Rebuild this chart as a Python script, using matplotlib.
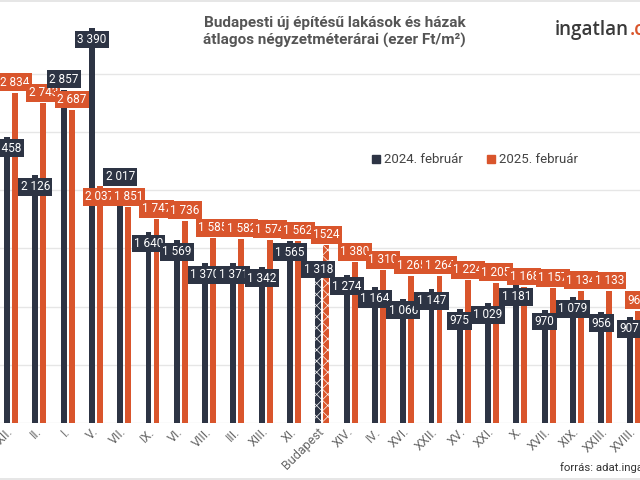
import numpy as np
import matplotlib
matplotlib.use('Agg')
import matplotlib.pyplot as plt
from matplotlib.patches import Patch
from matplotlib.lines import Line2D

plt.rcParams['font.family'] = ['Roboto', 'DejaVu Sans']
plt.rcParams['hatch.linewidth'] = 0.5

# data (ezer Ft/m2)
districts = ['XII.', 'II.', 'I.', 'V.', 'VII.', 'IX.', 'VI.', 'VIII.', 'III.', 'XIII.',
             'XI.', 'Budapest', 'XIV.', 'IV.', 'XVI.', 'XXII.', 'XV.', 'XXI.', 'X.',
             'XVII.', 'XIX.', 'XXIII.', 'XVIII.']
feb_2024 = [2458, 2126, 2857, 3390, 2017, 1640, 1569, 1370, 1371, 1342,
            1565, 1318, 1274, 1164, 1066, 1147, 975, 1029, 1181,
            970, 1079, 956, 907]
feb_2025 = [2834, 2743, 2687, 2037, 1851, 1747, 1736, 1585, 1582, 1574,
            1562, 1524, 1380, 1310, 1265, 1264, 1224, 1205, 1168,
            1157, 1134, 1133, 963]
series_names = ['2024. február', '2025. február']

NAVY = '#2d3444'
ORANGE = '#d9552c'
GRID = '#e6e6e6'

def fmt(v):
    return f'{v:,}'.replace(',', ' ')

lbl_2024 = [fmt(v) for v in feb_2024]
lbl_2025 = [fmt(v) for v in feb_2025]
lbl_2025[districts.index('Budapest')] = '1524'

fig = plt.figure(figsize=(6.4, 4.8), dpi=100)
ax = fig.add_axes([0, 57 / 480, 1, 407.75 / 480])

x = np.arange(len(districts))
w = 0.21
off = 0.142
bp = districts.index('Budapest')

b1 = ax.bar(x - off, feb_2024, w, color=NAVY, zorder=2, linewidth=0)
b2 = ax.bar(x + off, feb_2025, w, color=ORANGE, zorder=2, linewidth=0)
for b in (b1[bp], b2[bp]):
    b.set_hatch('xxx')
    b.set_edgecolor('white')

ax.set_xlim(-0.389, 22.226)
ax.set_ylim(0, 3500)
ax.set_yticks(np.arange(0, 3001, 500))
ax.yaxis.grid(True, color=GRID, linewidth=1)
ax.set_axisbelow(True)
ax.tick_params(axis='y', left=False, labelleft=False)
ax.tick_params(axis='x', length=0, pad=5)
for s in ax.spines.values():
    s.set_visible(False)

ax.set_xticks(x)
ax.set_xticklabels(districts, rotation=45, ha='right', va='center',
                   rotation_mode='anchor', fontsize=9, color='#666666')

# value labels
navy_up = {2, 4}
navy_mid = {bp}
orange_down = {3}
z = 5
for i in range(len(districts)):
    dy = -8.3
    if i in navy_up:
        dy = 8.0
    elif i in navy_mid:
        dy = 0
    ax.annotate(lbl_2024[i], (x[i] - off, feb_2024[i]), xytext=(0, dy),
                textcoords='offset points', ha='center', va='center',
                fontsize=8.5, color='white', zorder=z,
                bbox=dict(boxstyle='square,pad=0.2', fc=NAVY, ec='none'))
    z += 1
    dy = 7.6
    if i in orange_down:
        dy = -8.0
    ax.annotate(lbl_2025[i], (x[i] + off, feb_2025[i]), xytext=(0, dy),
                textcoords='offset points', ha='center', va='center',
                fontsize=8.5, color='white', zorder=z,
                bbox=dict(boxstyle='square,pad=0.2', fc=ORANGE, ec='none'))
    z += 1

# title
fig.text(0.523, 1 - 32 / 480, 'Budapesti új építésű lakások és házak\nátlagos négyzetméterárai (ezer Ft/m²)',
         ha='center', va='center', fontsize=11, fontweight='bold', color='#555555',
         linespacing=1.3)

# logo
logo = fig.text(555 / 640, 1 - 30 / 480, 'ingatlan', ha='left', va='center',
                fontsize=13.5, family='Open Sans', fontweight='semibold', color='#3a3a3a')
r = fig.canvas.get_renderer()
bb = logo.get_window_extent(renderer=r)
fig.text(bb.x1 / 640 + 0.5 / 640, 1 - 30 / 480, '.c', ha='left', va='center',
         fontsize=13.5, family='Open Sans', fontweight='semibold', color=ORANGE)

# legend
handles = [Patch(color=NAVY), Patch(color=ORANGE)]
fig.legend(handles, series_names, loc='center', bbox_to_anchor=(475 / 640, 1 - 160 / 480),
           ncol=2, frameon=False, fontsize=9.5, handlelength=0.55, handleheight=0.55,
           handletextpad=0.3, columnspacing=1.9, labelcolor='#444444')

# source
fig.text(560 / 640, 1 - 468 / 480, 'forrás: adat.ingatlan.com', ha='left', va='center',
         fontsize=8.2, color='#333333')

# frame lines
fig.add_artist(Line2D([0, 1], [1 - 0.8 / 480, 1 - 0.8 / 480], color='#e2e2e2', lw=1.2))
fig.add_artist(Line2D([0, 1], [1.2 / 480, 1.2 / 480], color='#e2e2e2', lw=1.2))

fig.savefig('out.png', dpi=100)
